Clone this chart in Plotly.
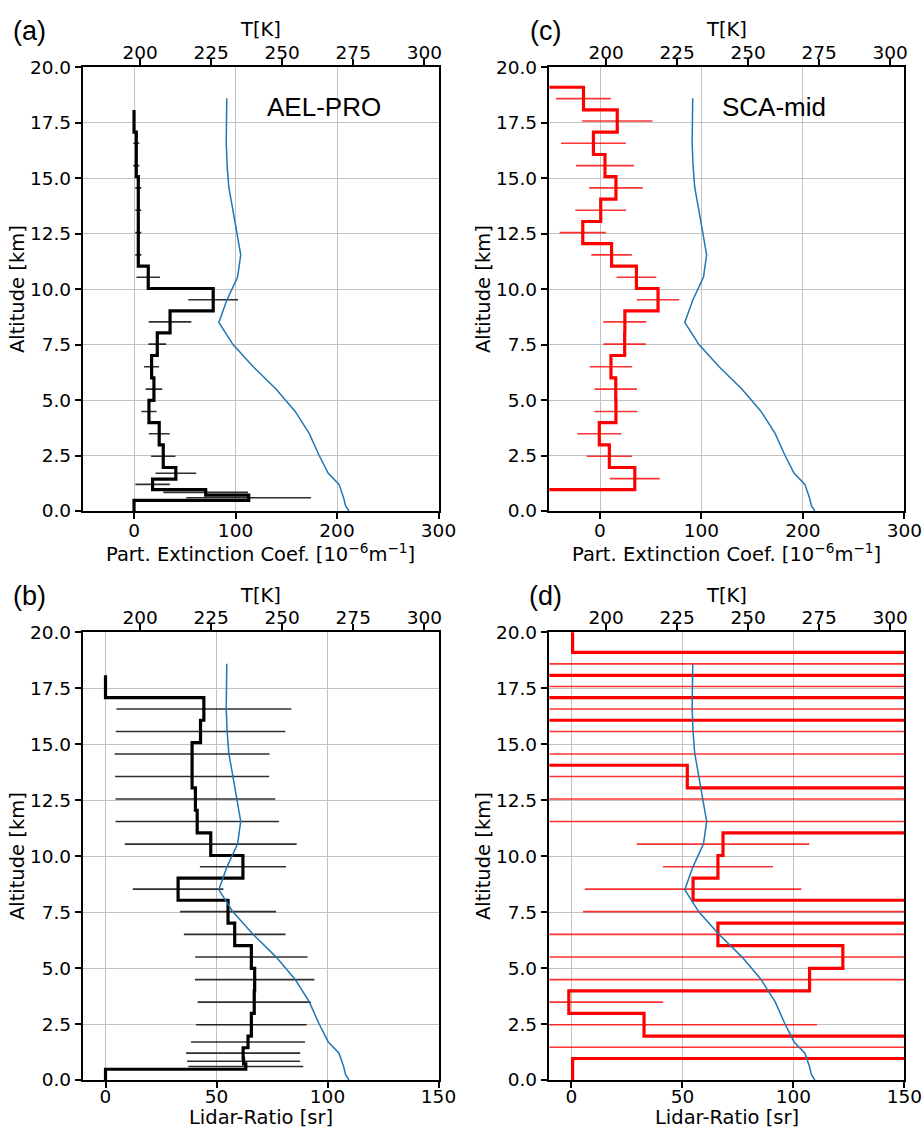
import plotly.graph_objects as go

W, H = 924, 1128

# ---------------- data ----------------
# AEL-PRO range-bin edges [km], top to bottom
ael_edges = [18.08, 17.08, 16.07, 15.07, 14.06, 13.05, 12.05, 11.04, 10.03, 9.02, 8.03,
             7.01, 6.0, 4.99, 3.98, 2.98, 1.96, 1.44, 0.96, 0.72, 0.48, 0.0]
# particle extinction coefficient [1e-6 /m] per bin and its error
ael_ext = [0, 2.2, 2.2, 4.2, 4.2, 4.2, 4.2, 14.0, 78.0, 35.5, 22.9, 17.3, 19.6, 14.7,
           24.8, 28.8, 41.2, 18.3, 70.6, 113.0, 0]
ael_ext_err = [None, 3, 3, 3, 3, 3, 3, 11.5, 24.5, 21, 8.7, 7.4, 8.2, 7.5, 10.3, 12,
               20, 17, 41.7, 61.5, None]
# lidar ratio [sr] per bin and its error
ael_lr = [0, 44.3, 42.8, 39.0, 39.0, 40.5, 41.3, 47.4, 61.9, 32.7, 55.2, 58.2, 65.7,
          67.2, 67.0, 65.7, 64.2, 62.0, 62.2, 63.2, 0]
ael_lr_err = [None, 39.4, 38.2, 34.9, 34.7, 36.0, 36.8, 38.7, 19.4, 20.4, 21.6, 22.9,
              25.3, 26.9, 25.5, 24.9, 25.7, 25.7, 25.5, 25.9, None]

# SCA-mid range-bin edges [km], top to bottom
sca_edges = [20.3, 19.1, 18.08, 17.08, 16.07, 15.07, 14.06, 13.05, 12.05, 11.04, 10.03,
             9.02, 8.03, 7.01, 6.0, 4.99, 3.98, 2.98, 1.96, 0.96, 0.0]
sca_ext = [-100, -16.3, 17.0, -6.5, 4.9, 15.7, 0.7, -17.0, 11.4, 35.9, 57.2, 24.5, 24.3,
           10.8, 15.5, 15.7, -0.7, 9.2, 34.3, -100]
sca_ext_err = [None, 27, 34.7, 32, 28.6, 26.3, 25, 22.8, 20, 19.6, 21, 21.2, 20.9, 20.9,
               20.9, 21.2, 21.7, 22.3, 24.5, None]
sca_lr = [0.5, 400, -300, 400, -300, -300, 52.2, 400, 400, 68.3, 66.0, 54.8, 300, 66.0,
          122.3, 107.3, -1.2, 32.7, 400, 0.5]
sca_lr_err = [None, 500, 500, 500, 500, 500, 200, 500, 500, 38.9, 24.8, 48.8, 294.8,
              150, 200, 200, 42.5, 77.9, 500, None]

# temperature profile
t_alt = [18.6, 17.6, 16.6, 15.6, 14.6, 13.6, 12.55, 11.55, 10.55, 9.5, 8.5, 7.5, 6.5,
         5.5, 4.5, 3.5, 2.5, 1.7, 1.2, 0.84, 0.6, 0.24, 0.0]
t_k = [230.5, 230.3, 230.3, 230.6, 231.2, 232.6, 234.0, 235.4, 234.3, 230.5, 227.7,
       232.7, 239.8, 247.8, 254.5, 259.5, 263.0, 266.2, 270.0, 271.0, 271.6, 272.3, 273.5]

ext_ticks = [0, 100, 200, 300]
lr_ticks = [0, 50, 100, 150]
t_ticks = [200, 225, 250, 275, 300]
alt_ticks = [0, 2.5, 5, 7.5, 10, 12.5, 15, 17.5, 20]

EXT_TITLE = "Part. Extinction Coef. [10<sup>\u22126</sup>m<sup>\u22121</sup>]"
LR_TITLE = "Lidar-Ratio [sr]"
T_TITLE = "T[K]"

# ---------------- layout geometry ----------------
def px_x(a, b):
    return [a / W, b / W]

def px_y(top, bottom):
    return [1 - bottom / H, 1 - top / H]

XL = px_x(83.3, 438.5)
XR = px_x(549.3, 904.3)
YT = px_y(67.3, 511.0)
YB = px_y(632.3, 1080.0)

panels = [
    dict(n=1, xdom=XL, ydom=YT, edges=ael_edges, val=ael_ext, err=ael_ext_err,
         rng=[-50, 300], ticks=ext_ticks, title=EXT_TITLE, col="black",
         ecol="rgba(0,0,0,0.82)", lbl_shift=-5, title_y=553, ttop_y=30),
    dict(n=2, xdom=XL, ydom=YB, edges=ael_edges, val=ael_lr, err=ael_lr_err,
         rng=[-10, 150], ticks=lr_ticks, title=LR_TITLE, col="black",
         ecol="rgba(0,0,0,0.82)", lbl_shift=-8, title_y=1117, ttop_y=595),
    dict(n=3, xdom=XR, ydom=YT, edges=sca_edges, val=sca_ext, err=sca_ext_err,
         rng=[-50, 300], ticks=ext_ticks, title=EXT_TITLE, col="#ff0000",
         ecol="rgba(255,0,0,0.8)", lbl_shift=-5, title_y=553, ttop_y=30),
    dict(n=4, xdom=XR, ydom=YB, edges=sca_edges, val=sca_lr, err=sca_lr_err,
         rng=[-10, 150], ticks=lr_ticks, title=LR_TITLE, col="#ff0000",
         ecol="rgba(255,0,0,0.8)", lbl_shift=-8, title_y=1117, ttop_y=595),
]

TICKFONT = dict(family="DejaVu Sans", size=18.5, color="black")
TITLEFONT = dict(family="DejaVu Sans", size=19.5, color="black")
GRID = "#c2c2c2"

common = dict(showline=True, linecolor="black", linewidth=1.5, ticks="outside",
              ticklen=6.7, tickwidth=1.5, tickcolor="black", tickfont=TICKFONT,
              zeroline=False, automargin=False)

fig = go.Figure()
layout = {}
anns = []

for p in panels:
    n = p["n"]
    xb = 2 * n - 1
    xt = 2 * n
    xb_name = "x" if xb == 1 else f"x{xb}"
    xt_name = f"x{xt}"
    y_name = "y" if n == 1 else f"y{n}"

    mids = [(a + b) / 2 for a, b in zip(p["edges"][:-1], p["edges"][1:])]

    # step profile
    fig.add_trace(go.Scatter(
        x=p["val"] + [p["val"][-1]], y=p["edges"], mode="lines",
        line=dict(color=p["col"], width=3.2, shape="vh"),
        xaxis=xb_name, yaxis=y_name, hoverinfo="skip"))

    # error bars at bin centres
    ex = [v if e is not None else None for v, e in zip(p["val"], p["err"])]
    ee = [e if e is not None else 0 for e in p["err"]]
    fig.add_trace(go.Scatter(
        x=ex, y=mids, mode="markers",
        marker=dict(size=1, color="rgba(0,0,0,0)"),
        error_x=dict(type="data", array=ee, symmetric=True, color=p["ecol"],
                     thickness=1.6, width=0),
        xaxis=xb_name, yaxis=y_name, hoverinfo="skip"))

    # temperature on the top axis
    fig.add_trace(go.Scatter(
        x=t_k, y=t_alt, mode="lines", line=dict(color="#1f77b4", width=1.5),
        xaxis=xt_name, yaxis=y_name, hoverinfo="skip"))

    key_b = "xaxis" if xb == 1 else f"xaxis{xb}"
    key_t = f"xaxis{xt}"
    key_y = "yaxis" if n == 1 else f"yaxis{n}"

    layout[key_b] = dict(common, domain=p["xdom"], anchor=y_name, range=p["rng"],
                         tickvals=p["ticks"], showgrid=True, gridcolor=GRID,
                         gridwidth=1.4, side="bottom",
                         ticklabelstandoff=p["lbl_shift"])
    layout[key_t] = dict(common, overlaying=xb_name, anchor=y_name, side="top",
                         range=[180, 305], tickvals=t_ticks, showgrid=False,
                         ticklabelstandoff=-8)
    layout[key_y] = dict(common, domain=p["ydom"], anchor=xb_name, range=[0, 20],
                         tickvals=alt_ticks, tickformat=".1f", showgrid=True,
                         gridcolor=GRID, gridwidth=1.4, mirror=True,
                         title=dict(text="Altitude [km]", font=TITLEFONT, standoff=0))

    # axis titles of the bottom and top x axes
    xc = (p["xdom"][0] + p["xdom"][1]) / 2
    anns.append(dict(text=p["title"], x=xc, y=1 - p["title_y"] / H, xref="paper",
                     yref="paper", showarrow=False, font=TITLEFONT,
                     xanchor="center", yanchor="middle"))
    anns.append(dict(text=T_TITLE, x=xc, y=1 - p["ttop_y"] / H, xref="paper",
                     yref="paper", showarrow=False, font=TITLEFONT,
                     xanchor="center", yanchor="middle"))

fig.update_layout(**layout)

ann_font = dict(family="Liberation Sans", size=27, color="black")
labels = [("(a)", 30, 31), ("(b)", 30, 596), ("(c)", 545, 31), ("(d)", 545, 596)]
for t, x, y in labels:
    anns.append(dict(text=t, x=x / W, y=1 - y / H, xref="paper", yref="paper",
                     showarrow=False, font=ann_font, xanchor="center", yanchor="middle"))
for t, x, y in [("AEL-PRO", 324, 107), ("SCA-mid", 774, 107)]:
    anns.append(dict(text=t, x=x / W, y=1 - y / H, xref="paper", yref="paper",
                     showarrow=False, font=dict(family="Liberation Sans", size=26,
                                                color="black"),
                     xanchor="center", yanchor="middle"))

fig.update_layout(width=W, height=H, margin=dict(l=0, r=0, t=0, b=0),
                  plot_bgcolor="white", paper_bgcolor="white", showlegend=False,
                  annotations=anns,
                  font=dict(family="DejaVu Sans", size=18.5, color="black"))

fig.write_html("out.html")
